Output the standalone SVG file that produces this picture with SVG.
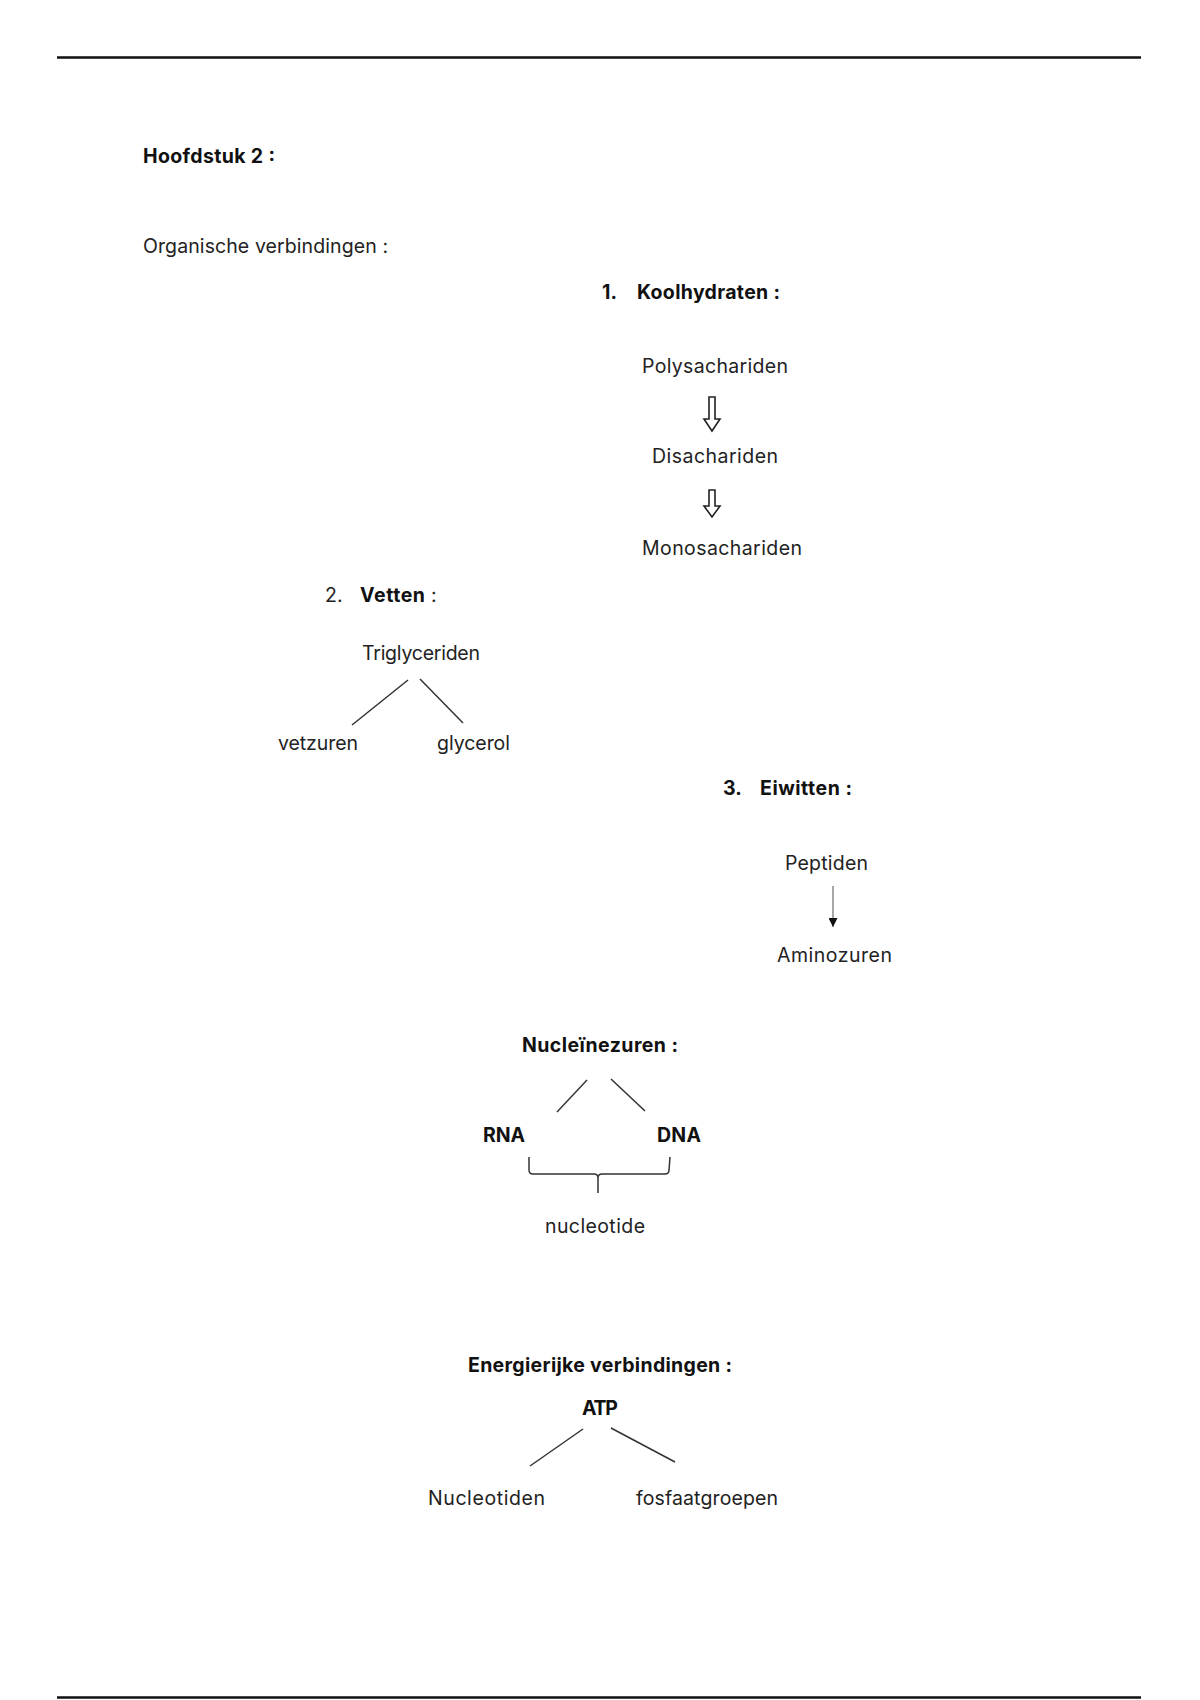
<svg xmlns="http://www.w3.org/2000/svg" width="1200" height="1700" viewBox="0 0 1200 1700">
<style>
text{font-family:Inter,"Open Sans","Liberation Sans",sans-serif;font-size:19.5px;fill:#222}
.b{font-weight:bold;fill:#111}
.ln{stroke:#333;stroke-width:1.5;fill:none}
.rule{stroke:#111;stroke-width:2.5}
.hol{stroke:#222;stroke-width:1.6;fill:none;stroke-linejoin:miter}
</style>
<defs>
<marker id="tri" viewBox="0 0 10 10" refX="10" refY="5" markerWidth="9" markerHeight="9" markerUnits="userSpaceOnUse" orient="auto">
<path d="M0,0 L10,5 L0,10 Z" fill="#111"/>
</marker>
</defs>
<rect width="1200" height="1700" fill="#fff"/>
<line class="rule" x1="57" y1="57.5" x2="1141" y2="57.5"/>
<line class="rule" x1="57" y1="1697.5" x2="1141" y2="1697.5"/>

<g id="title"><text class="b" x="143" y="163" textLength="132">Hoofdstuk 2 :</text></g>
<g id="organisch"><text x="143" y="253" textLength="245">Organische verbindingen :</text></g>

<g id="koolhydraten"><text class="b" x="602" y="299">1.</text><text class="b" x="637" y="299" textLength="143">Koolhydraten :</text></g>
<g id="polysachariden"><text x="642" y="373" textLength="146">Polysachariden</text></g>
<g id="disachariden"><text x="652" y="463" textLength="126">Disachariden</text></g>
<g id="monosachariden"><text x="642" y="555" textLength="160">Monosachariden</text></g>

<g id="vetten"><text x="325" y="602">2.</text><text class="b" x="360" y="602" textLength="65">Vetten</text><text x="431" y="602">:</text></g>
<g id="triglyceriden"><text x="362" y="660" textLength="118">Triglyceriden</text></g>
<g id="vetzuren"><text x="278" y="750" textLength="80">vetzuren</text></g>
<g id="glycerol"><text x="437" y="750" textLength="73">glycerol</text></g>

<g id="eiwitten"><text class="b" x="723" y="795">3.</text><text class="b" x="760" y="795" textLength="92">Eiwitten :</text></g>
<g id="peptiden"><text x="785" y="870" textLength="83">Peptiden</text></g>
<g id="aminozuren"><text x="777" y="962" textLength="115">Aminozuren</text></g>

<g id="nucleinezuren"><text class="b" x="522" y="1052" textLength="156">Nucleïnezuren :</text></g>
<g id="rna"><text class="b" x="483" y="1142" textLength="42">RNA</text></g>
<g id="dna"><text class="b" x="657" y="1142" textLength="44">DNA</text></g>
<g id="nucleotide"><text x="545" y="1233" textLength="100">nucleotide</text></g>

<g id="energierijk"><text class="b" x="468" y="1372" textLength="264">Energierijke verbindingen :</text></g>
<g id="atp"><text class="b" x="582" y="1415" textLength="36">ATP</text></g>
<g id="nucleotiden"><text x="428" y="1505" textLength="117">Nucleotiden</text></g>
<g id="fosfaatgroepen"><text x="636" y="1505" textLength="142">fosfaatgroepen</text></g>

<g id="connectors">
<path class="hol" d="M709,397 H715 V419 H720 L712,431 L704,419 H709 Z"/>
<path class="hol" d="M709,490 H715 V506 H720 L712,517 L704,506 H709 Z"/>
<line class="ln" x1="408" y1="680" x2="352" y2="725"/>
<line class="ln" x1="420" y1="679" x2="463" y2="723"/>
<line x1="833" y1="886" x2="833" y2="927" stroke="#777" stroke-width="1.3" marker-end="url(#tri)"/>
<line class="ln" x1="587" y1="1080" x2="557" y2="1112"/>
<line class="ln" x1="611" y1="1079" x2="645" y2="1111"/>
<path class="ln" d="M529,1157 V1170 Q529,1174 533,1174 H594 Q598,1174 598,1178 V1193 M598,1178 Q598,1174 602,1174 H665 Q669,1174 669,1170 L670,1157"/>
<line class="ln" x1="583" y1="1429" x2="530" y2="1466"/>
<line class="ln" x1="611" y1="1428" x2="675" y2="1462"/>
</g>
</svg>
